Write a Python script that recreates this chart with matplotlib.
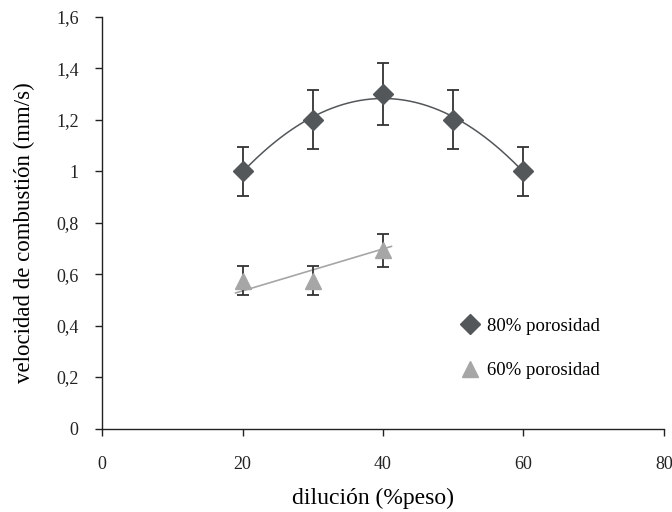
import numpy as np
import matplotlib.pyplot as plt

# DATA
dil_80 = [20, 30, 40, 50, 60]
vel_80 = [1.00, 1.20, 1.30, 1.20, 1.00]
err_80 = [0.095, 0.115, 0.122, 0.115, 0.095]

dil_60 = [20, 30, 40]
vel_60 = [0.575, 0.575, 0.693]
err_60 = [0.055, 0.055, 0.065]

# trend line of the 60% series, as drawn
trend60_x = [19.0, 41.2]
trend60_y = [0.527, 0.708]

COLOR_80 = "#535759"
COLOR_60 = "#a6a6a6"
COLOR_ERR = "#333333"

plt.rcParams["font.family"] = ["Liberation Serif", "DejaVu Serif"]

fig = plt.figure(figsize=(6.72, 5.12), dpi=100)
ax = fig.add_axes([0.152, 0.163, 0.836, 0.804])

# 80% porosity: quadratic trend
coef = np.polyfit(dil_80, vel_80, 2)
xs = np.linspace(20, 60, 200)
ax.plot(xs, np.polyval(coef, xs), c=COLOR_80, lw=1.1, zorder=2)
ax.errorbar(dil_80, vel_80, yerr=err_80, fmt="none", ecolor=COLOR_ERR,
            elinewidth=1.3, capsize=4.5, capthick=1.3, zorder=3)
ax.plot(dil_80, vel_80, ls="none", marker="D", ms=10, c=COLOR_80,
        label="80% porosidad", zorder=4)

# 60% porosity: linear trend
ax.plot(trend60_x, trend60_y, c=COLOR_60, lw=1.2, zorder=2)
ax.errorbar(dil_60, vel_60, yerr=err_60, fmt="none", ecolor=COLOR_ERR,
            elinewidth=1.3, capsize=4.5, capthick=1.3, zorder=3)
ax.plot(dil_60, vel_60, ls="none", marker="^", ms=12, c=COLOR_60,
        label="60% porosidad", zorder=4)

ax.set_xlim(0, 80)
ax.set_ylim(0, 1.6)
ax.set_xticks([0, 20, 40, 60, 80])
ax.set_yticks(np.arange(0, 1.61, 0.2))
ax.set_yticklabels(["0", "0,2", "0,4", "0,6", "0,8", "1", "1,2", "1,4", "1,6"])
ax.tick_params(axis="both", direction="out", length=5, width=1, labelsize=13,
               colors="#222222")
ax.tick_params(axis="x", pad=15)
ax.tick_params(axis="y", pad=12)

for s in ["top", "right"]:
    ax.spines[s].set_visible(False)
for s in ["left", "bottom"]:
    ax.spines[s].set_linewidth(1.0)
    ax.spines[s].set_color("#222222")

ax.set_xlabel("dilución (%peso)", fontsize=17)
ax.set_ylabel("velocidad de combustión (mm/s)", fontsize=16.5)
ax.xaxis.set_label_coords(0.482, -0.143)
ax.yaxis.set_label_coords(-0.12, 0.476)

ax.legend(loc="upper left", bbox_to_anchor=(0.605, 0.31), frameon=False,
          fontsize=13.5, labelspacing=1.45, handletextpad=0.3, handlelength=1.2)

fig.savefig("out.png", dpi=100)
